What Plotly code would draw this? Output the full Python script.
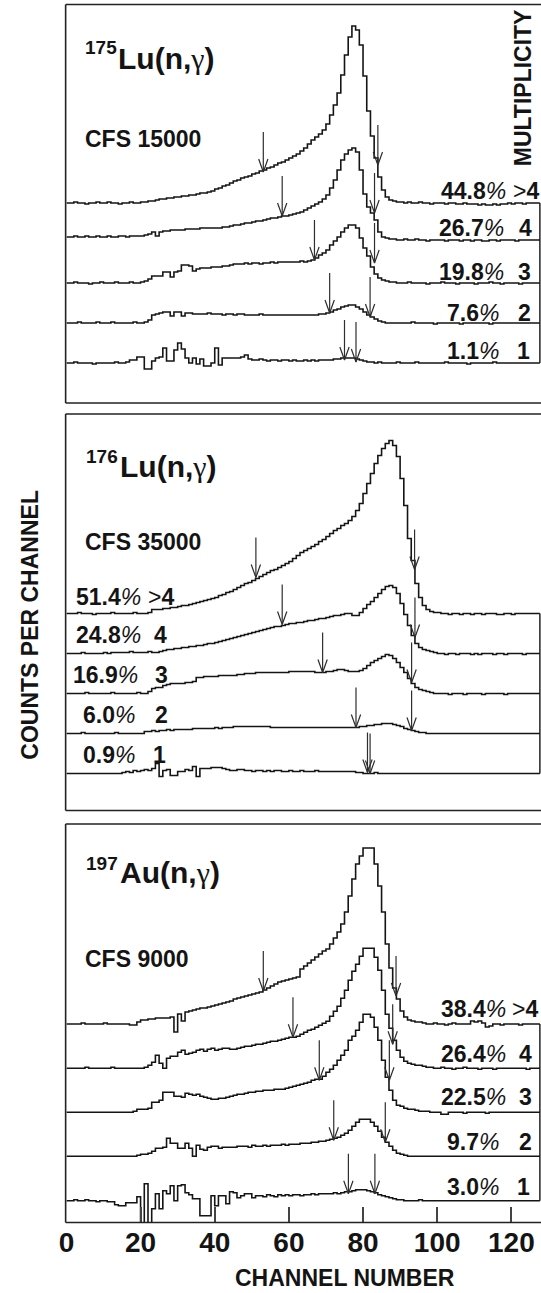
import plotly.graph_objects as go

FONT = "Liberation Sans, Arial, Helvetica, sans-serif"
W, H = 541, 1293
INK = "#141414"

# ------------------------------------------------------------------ data
channels = list(range(128))
x_end = 127.7
multiplicity = [">4", "4", "3", "2", "1"]
tick_vals = [0, 20, 40, 60, 80, 100, 120]

# 175Lu(n,g)  -- counts per channel (scaled), multiplicity >4,4,3,2,1
lu175_gt4 = [0,0,1,0,0,-1,0,0,1,0, 0,1,0,0,-1,0,0,1,0,0, 1,1,2,2,3,4,4,5,5,6,
             6,7,7,8,8,9,10,10,11,12, 14,15,17,18,20,22,23,25,26,27,
             29,30,32,33,35,36,38,40,41,43, 45,47,49,52,55,59,63,66,69,73,
             79,88,98,110,128,148,166,177,173,158, 127,92,67,45,26,13,6,3,2,1,
             1,0,1,0,0,1,0,0,-1,0, 0,0,-1,0,0,-1,-1,0,-1,-1,
             -1,-2,-1,-2,-2,-1,-2,-1,-1,0, -1,0,0,-1,0,0,0,0]
lu175_m4 = [3,3,4,3,3,4,3,3,4,3, 3,4,3,3,4,4,3,4,4,4, 4,5,6,8,4,8,9,9,10,10,
            10,10,11,11,11,11,12,12,12,12, 12,12,13,13,14,15,15,16,17,17,
            18,19,19,20,21,22,22,23,24,24, 25,26,27,28,30,32,34,36,38,41,
            45,52,60,70,80,86,90,92,88,70, 46,33,27,20,8,3,2,1,1,0,
            0,1,0,0,1,0,0,-1,0,0, 0,0,-1,0,0,0,-1,0,0,-1,
            0,0,-1,-1,0,0,-1,0,0,0, 0,-1,0,0,0,0,0,0]
lu175_m3 = [0,0,1,0,0,0,-1,0,0,1, 0,0,0,1,0,0,0,1,0,0, 1,2,4,7,7,7,11,11,6,11,
            12,18,18,17,12,14,15,15,15,16, 16,16,17,17,18,19,19,19,20,19,
            20,20,19,20,20,21,20,21,21,21, 21,21,21,22,21,22,23,25,28,30,
            33,38,42,46,51,55,58,58,55,45, 35,27,16,9,5,3,2,1,1,0,
            0,0,1,0,0,0,0,-1,0,0, 0,1,0,0,0,-1,0,0,0,0,
            -1,0,0,0,1,0,0,-1,0,0, 0,0,-1,0,0,0,0,0]
lu175_m2 = [0,0,0,1,0,0,0,0,1,0, 0,0,1,0,0,0,0,0,1,0, 0,1,3,8,9,10,11,11,7,11,
            11,7,10,10,9,9,9,9,10,9, 9,9,8,9,9,8,9,9,8,8,
            8,8,9,8,8,8,8,8,8,8, 8,8,8,8,8,8,8,8,9,9,
            10,11,13,14,16,17,18,18,16,14, 11,8,6,4,2,1,0,0,0,0,
            0,0,0,1,0,0,0,0,0,-1, 0,0,0,0,0,0,-1,0,0,0,
            0,0,0,0,-1,0,0,0,0,0, 0,0,0,0,0,0,0,0]
lu175_m1 = [0,0,1,0,0,0,0,-1,0,0, 0,0,0,1,0,0,1,3,3,6, 6,-6,-6,2,5,6,15,2,2,13,
            20,14,5,0,5,-1,4,-3,-3,0, 15,-2,5,5,5,5,5,6,8,4,
            3,3,4,3,2,3,3,2,3,3, 2,3,2,2,3,2,3,2,3,3,
            3,3,4,4,5,5,5,5,4,3, 2,1,1,0,1,0,0,0,0,1,
            0,0,0,0,1,0,0,0,0,0, 0,0,1,0,0,0,0,0,-1,0,
            0,0,0,0,0,1,0,0,0,0, 0,0,0,0,0,0,0,0]
lu175_pct = ["44.8", "26.7", "19.8", "7.6", "1.1"]
lu175_arrow_ch = [53.1, 84.0, 58.2, 83.1, 66.9, 83.1, 71.0, 81.9, 75.0, 78.1]
lu175_arrow_tip = [31, 38, 24, 27, 23, 20, 10, 6, 3, 1]

# 176Lu(n,g)
lu176_gt4 = [0,0,0,1,0,0,0,-1,0,0, 0,0,1,0,0,0,0,0,1,0, 0,0,1,4,4,4,5,5,6,6,
             7,8,8,9,10,11,12,13,14,15, 16,18,19,21,22,24,26,28,30,31,
             33,35,37,39,41,43,44,46,48,50, 52,55,58,61,63,65,67,69,72,74,
             77,80,83,85,88,90,93,97,103,110, 120,130,140,150,158,165,170,173,168,157,
             135,108,75,53,30,16,8,4,2,1, 1,0,0,-1,0,0,-1,0,0,-1,
             0,0,-1,0,0,0,-1,-1,0,0, -1,0,0,0,0,0,0,0]
lu176_m4 = [0,0,0,0,1,0,0,0,0,0, 1,0,1,1,1,1,1,2,1,1, 1,1,2,1,1,2,3,4,4,5,
            5,6,6,7,7,8,8,9,10,10, 11,12,13,14,15,16,17,18,19,20,
            21,22,23,24,25,26,27,27,28,29, 30,30,31,31,32,33,33,34,35,35,
            36,37,38,38,39,40,40,38,38,41, 45,49,52,56,60,64,67,68,66,60,
            50,39,28,18,10,6,4,3,2,1, 0,0,-1,0,0,-1,0,0,0,-1,
            0,-1,0,0,0,-1,0,0,-1,0, 0,0,0,-1,0,0,0,0]
lu176_m3 = [0,0,0,0,0,1,0,0,0,0, 0,0,1,0,0,0,0,0,0,1, 0,0,2,5,6,6,8,9,10,10,
            10,10,11,11,12,16,16,17,17,17, 17,18,18,18,18,18,19,19,20,20,
            20,21,21,21,21,21,21,21,21,21, 22,22,22,22,22,22,22,21,21,21,
            22,22,23,24,24,23,22,22,22,23, 25,28,31,33,35,37,39,38,35,31,
            26,21,15,10,6,4,3,2,1,0, 0,0,0,-1,0,0,0,-1,0,0,
            0,0,-1,0,0,0,0,0,-1,0, 0,0,0,0,0,0,0,0]
lu176_m2 = [0,0,0,0,1,0,0,0,0,0, 0,0,0,1,0,0,0,0,0,0, 0,2,2,3,2,3,3,4,3,4,
            4,4,4,4,5,5,5,5,5,5, 6,5,6,6,6,7,7,7,7,7,
            7,7,7,7,7,6,6,6,6,6, 6,6,6,6,6,6,6,6,6,6,
            6,6,6,6,6,6,6,6,6,7, 7,8,8,9,9,10,10,10,9,8,
            7,5,4,3,2,1,1,0,0,0, 0,0,0,0,0,0,0,0,0,0,
            0,0,0,0,0,0,0,0,0,0, 0,0,0,0,0,0,0,0]
lu176_m1 = [0,0,0,0,0,0,0,0,0,0, 0,0,0,0,0,1,2,1,3,2, 3,4,3,5,10,-3,3,4,-2,-2,
            2,2,4,3,7,-3,5,5,5,6, 6,6,5,4,3,3,4,4,3,3,
            2,3,3,2,3,2,3,3,2,2, 3,2,2,3,2,2,2,3,2,2,
            2,2,2,2,2,2,2,2,1,1, 0,0,0,1,0,0,0,0,0,0,
            0,0,0,0,0,0,0,0,0,0, 0,0,0,0,0,0,0,0,0,0,
            0,0,0,0,0,0,0,0,0,0, 0,0,0,0,0,0,0,0]
lu176_pct = ["51.4", "24.8", "16.9", "6.0", "0.9"]
lu176_arrow_ch = [51.1, 93.9, 58.2, 94.0, 69.1, 93.1, 78.1, 93.1, 81.2, 81.9]
lu176_arrow_tip = [36, 44, 29, 16, 21, 11, 6, 3, 1, 0]

# 197Au(n,g)
au197_gt4 = [0,0,0,0,1,0,0,0,0,0, 1,0,0,0,0,0,0,-1,-1,2, 4,4,5,5,6,6,6,6,7,-8,
             10,3,12,13,14,15,16,16,17,18, 19,20,21,22,23,25,26,27,28,29,
             30,31,32,34,36,38,40,42,43,44, 45,46,47,55,58,61,64,67,70,73,
             75,80,86,92,100,112,128,145,160,168, 176,176,176,160,138,112,80,56,36,25,
             13,7,4,3,2,2,1,0,0,1, 0,0,-1,0,1,0,0,0,0,3,
             2,3,1,-3,-2,0,0,-1,0,0, 0,0,-1,0,0,0,0,0]
au197_m4 = [0,0,0,0,0,1,0,0,0,0, 0,0,1,0,0,0,0,0,0,0, 0,1,3,6,13,5,0,10,12,12,
            16,18,14,15,16,18,19,17,19,20, 18,19,20,20,19,19,20,21,22,22,
            23,24,24,25,26,27,27,28,29,30, 31,31,32,34,36,38,39,41,43,45,
            47,52,57,62,70,78,88,97,104,112, 120,120,120,111,98,78,54,40,28,18,
            11,7,5,4,3,3,2,1,1,0, 0,1,0,0,-1,0,0,1,0,0,
            0,-1,0,0,0,-1,0,0,0,0, 0,0,0,0,-1,0,0,0]
au197_m3 = [0,0,0,0,0,0,0,0,0,0, 0,0,0,0,0,0,0,0,1,3, 3,3,4,10,10,12,20,20,20,16,
            16,15,19,18,17,18,16,15,14,13, 13,14,14,15,16,17,18,18,19,20,
            20,21,21,22,22,22,23,23,23,24, 25,26,27,28,29,30,32,33,33,36,
            40,43,47,52,57,62,72,76,82,90, 98,98,95,85,72,52,35,22,12,7,
            6,4,3,3,2,1,1,1,0,0, 0,-2,-2,0,0,0,0,-1,0,0,
            0,0,0,-1,0,0,0,0,0,0, 0,0,0,0,0,0,0,0]
au197_m2 = [0,0,0,0,0,0,0,0,0,0, 0,0,0,0,0,0,0,0,0,1, 2,2,3,5,8,8,9,18,13,13,
            8,8,13,8,0,11,7,6,9,10, 10,8,9,9,9,9,10,10,10,9,
            11,10,10,11,10,11,11,11,12,11, 12,12,12,13,13,13,14,14,15,15,
            16,17,18,19,21,23,26,30,34,37, 37,37,34,30,25,19,14,10,6,3,
            2,1,0,0,0,0,0,0,0,0, 0,0,0,0,0,0,0,0,0,0,
            0,0,0,0,0,0,0,0,0,0, 0,0,0,0,0,0,0,0]
au197_m1 = [0,0,1,0,0,1,0,0,-1,0, 0,-1,-1,-4,-5,-5,-2,-2,-2,4, -30,17,-30,-8,7,-8,10,7,15,0,
            15,16,8,6,2,2,-15,-15,-15,5, -5,5,5,-3,9,8,3,5,7,7,
            3,5,5,4,6,5,4,6,5,6, 5,6,6,5,6,6,7,6,7,7,
            7,7,8,7,8,9,9,10,11,11, 11,10,9,8,6,5,4,3,2,1,
            1,0,0,0,0,1,0,0,0,0, 0,0,0,0,0,0,0,0,0,0,
            0,0,0,0,0,0,0,0,0,0, 0,0,0,0,0,0,0,0]
au197_pct = ["38.4", "26.4", "22.5", "9.7", "3.0"]
au197_arrow_ch = [53.1, 88.9, 61.1, 88.0, 68.2, 87.1, 72.1, 86.0, 76.05, 83.2]
au197_arrow_tip = [33, 28, 31, 24, 32, 32, 16, 14, 7, 7]

# ------------------------------------------------------------------ styling / layout
GAMMA = "<span style='font-family:Liberation Serif, Times New Roman, serif;font-weight:normal'>γ</span>"
panels = [
    dict(curves=[lu175_gt4, lu175_m4, lu175_m3, lu175_m2, lu175_m1], pct=lu175_pct,
         arr_ch=lu175_arrow_ch, arr_tip=lu175_arrow_tip,
         top=4.5, bottom=403.0, base=[200, 163, 120, 80, 40], xa="x2", ya="y",
         sup="175", main="Lu(n,", sup_xy=(78, 47.5), main_xy=(112, 58),
         cfs="CFS 15000", cfs_xy=(78, 139.5),
         pct_x=[505, 503, 503, 498, 498], mul_x=[539, 531.5, 531, 531, 530],
         lab_y=[191.5, 228, 272.5, 313, 351]),
    dict(curves=[lu176_gt4, lu176_m4, lu176_m3, lu176_m2, lu176_m1], pct=lu176_pct,
         arr_ch=lu176_arrow_ch, arr_tip=lu176_arrow_tip,
         top=414.0, bottom=810.5, base=[197, 157, 117, 77, 37], xa="x3", ya="y2",
         sup="176", main="Lu(n,", sup_xy=(79, 456.5), main_xy=(114, 466),
         cfs="CFS 35000", cfs_xy=(78, 541.5),
         pct_x=[135, 134.5, 132, 128.5, 128.5], mul_x=[168.5, 161.5, 162, 162, 160],
         lab_y=[596.5, 635, 675, 715, 755]),
    dict(curves=[au197_gt4, au197_m4, au197_m3, au197_m2, au197_m1], pct=au197_pct,
         arr_ch=au197_arrow_ch, arr_tip=au197_arrow_tip,
         top=824.0, bottom=1222.5, base=[198.5, 154.2, 110.2, 66.2, 21.8], xa="x", ya="y3",
         sup="197", main="Au(n,", sup_xy=(79, 863.5), main_xy=(114, 872.5),
         cfs="CFS 9000", cfs_xy=(78, 959),
         pct_x=[505, 505, 505, 498, 498], mul_x=[538, 531.5, 531.5, 531.5, 530],
         lab_y=[1009, 1053.5, 1097.3, 1141.5, 1186.5]),
]

X0 = 59.3            # pixel of channel 0
SHAFT, HEAD_H, HEAD_W = 40, 13, 1.25


def px(x):
    return x / W


def py(y):
    return 1 - y / H


fig = go.Figure()
annotations = []
shapes = []


def add_text(text, X, Y, size, xanchor="left", angle=0):
    annotations.append(dict(
        x=px(X), y=py(Y), xref="paper", yref="paper", text=text, showarrow=False,
        xanchor=xanchor, yanchor="middle", textangle=angle, borderpad=0, borderwidth=0,
        font=dict(family=FONT, size=size, color=INK)))


for p in panels:
    xa, ya = p["xa"], p["ya"]
    ends = []
    for curve, b in zip(p["curves"], p["base"]):
        ys = [b + v for v in curve] + [b + curve[-1]]
        ends.append(ys[-1])
        fig.add_trace(go.Scatter(
            x=channels + [x_end], y=ys, mode="lines",
            line=dict(shape="hv", color=INK, width=1.6),
            xaxis=xa, yaxis=ya, hoverinfo="skip", showlegend=False))
    # right-end connector
    fig.add_trace(go.Scatter(
        x=[x_end, x_end], y=[ends[0], ends[-1]], mode="lines",
        line=dict(color=INK, width=1.4), xaxis=xa, yaxis=ya,
        hoverinfo="skip", showlegend=False))
    # cut arrows
    ax_, ay_ = [], []
    for k, (c, t) in enumerate(zip(p["arr_ch"], p["arr_tip"])):
        tip = p["base"][k // 2] + t
        ax_ += [c, c, None, c - HEAD_W, c, c + HEAD_W, None]
        ay_ += [tip + SHAFT, tip, None, tip + HEAD_H, tip, tip + HEAD_H, None]
    fig.add_trace(go.Scatter(
        x=ax_, y=ay_, mode="lines", line=dict(color="#2e2e2e", width=1.2),
        xaxis=xa, yaxis=ya, hoverinfo="skip", showlegend=False))

    # frame: top, bottom, left
    for (x0, y0, x1, y1) in [(58.5, p["top"], 541, p["top"]),
                             (58.5, p["bottom"], 541, p["bottom"]),
                             (58.5, p["top"], 58.5, p["bottom"])]:
        shapes.append(dict(type="line", xref="paper", yref="paper",
                           x0=px(x0), y0=py(y0), x1=px(x1), y1=py(y1),
                           line=dict(color="#222222", width=1.6)))

    # titles
    add_text("<b>%s</b>" % p["sup"], p["sup_xy"][0], p["sup_xy"][1], 19)
    add_text("<b>%s</b>%s<b>)</b>" % (p["main"], GAMMA), p["main_xy"][0], p["main_xy"][1], 30)
    add_text("<b>%s</b>" % p["cfs"], p["cfs_xy"][0], p["cfs_xy"][1], 23)

    # percentage / multiplicity labels
    for pc, m, xp, xm, yl in zip(p["pct"], multiplicity, p["pct_x"], p["mul_x"], p["lab_y"]):
        add_text("<b>%s</b><span style='font-weight:normal;font-style:italic'>%%</span>" % pc,
                 xp, yl, 23, "right")
        mt = m.replace(">", "<span style='font-weight:normal'>&gt;</span>")
        add_text("<b>%s</b>" % mt, xm, yl, 23, "right")

add_text("<b>MULTIPLICITY</b>", 523, 88, 23, "center", -90)
add_text("<b>COUNTS PER CHANNEL</b>", 22, 625, 23, "center", -90)
add_text("<b>CHANNEL NUMBER</b>", 342, 1278, 23, "center")

xdom = [X0 / W, 1.0]
hidden_x = dict(domain=xdom, range=[0, 128], visible=False, fixedrange=True)


def ydom(p):
    return [py(p["bottom"]), py(p["top"])]


fig.update_layout(
    width=W, height=H, margin=dict(l=0, r=0, t=0, b=0),
    paper_bgcolor="white", plot_bgcolor="white", showlegend=False,
    xaxis=dict(domain=xdom, range=[0, 128], anchor="y3", tickmode="array",
               tickvals=tick_vals, ticktext=["<b>%d</b>" % v for v in tick_vals],
               ticks="inside", ticklen=16, tickwidth=1.5, tickcolor="#444444",
               tickfont=dict(family=FONT, size=28, color=INK),
               showgrid=False, zeroline=False, showline=False, fixedrange=True),
    xaxis2=dict(hidden_x, anchor="y"),
    xaxis3=dict(hidden_x, anchor="y2"),
    yaxis=dict(domain=ydom(panels[0]), range=[0, panels[0]["bottom"] - panels[0]["top"]],
               visible=False, anchor="x2", fixedrange=True),
    yaxis2=dict(domain=ydom(panels[1]), range=[0, panels[1]["bottom"] - panels[1]["top"]],
                visible=False, anchor="x3", fixedrange=True),
    yaxis3=dict(domain=ydom(panels[2]), range=[0, panels[2]["bottom"] - panels[2]["top"]],
                visible=False, anchor="x", fixedrange=True),
    annotations=annotations, shapes=shapes,
)

fig.write_html("out.html")
